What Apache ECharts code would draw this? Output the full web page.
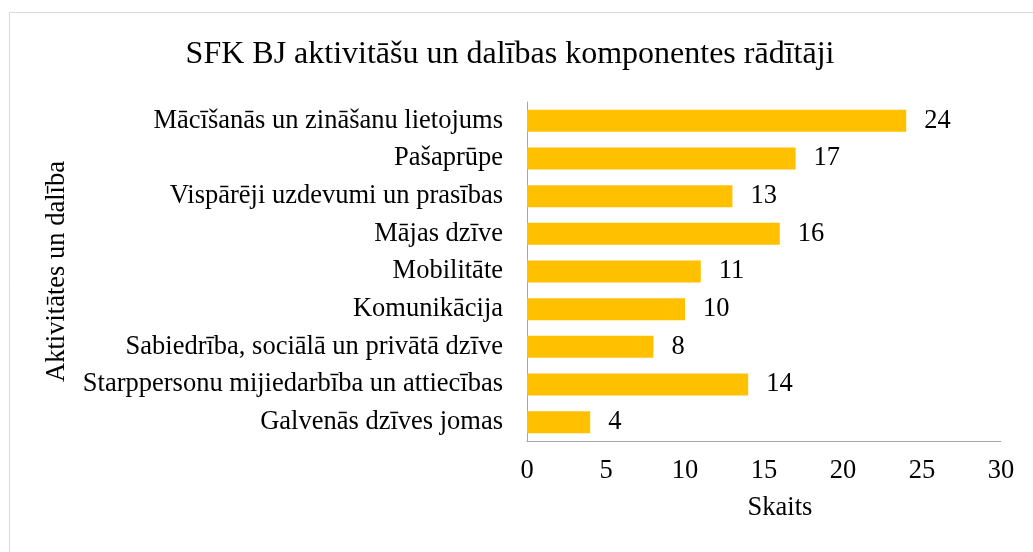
<!DOCTYPE html>
<html>
<head>
<meta charset="utf-8">
<script src="https://cdn.jsdelivr.net/npm/echarts@6/dist/echarts.min.js"></script>
<style>
  html, body { margin: 0; padding: 0; background: #fff; }
  #chart { width: 1033px; height: 552px; }
</style>
</head>
<body>
<div id="chart"></div>
<script>
// Activity and participation components (ICF), counts per component
const categories = [
  'Mācīšanās un zināšanu lietojums',
  'Pašaprūpe',
  'Vispārēji uzdevumi un prasības',
  'Mājas dzīve',
  'Mobilitāte',
  'Komunikācija',
  'Sabiedrība, sociālā un privātā dzīve',
  'Starppersonu mijiedarbība un attiecības',
  'Galvenās dzīves jomas'
];
const counts = [24, 17, 13, 16, 11, 10, 8, 14, 4];
const xTicks = [0, 5, 10, 15, 20, 25, 30];

const serif = '"Liberation Serif", "Times New Roman", serif';
const chart = echarts.init(document.getElementById('chart'), null, { renderer: 'canvas' });

chart.setOption({
  backgroundColor: '#fff',
  animation: false,
  textStyle: { fontFamily: serif },
  graphic: [{
    type: 'rect',
    shape: { x: 9.5, y: 12.5, width: 1100, height: 600 },
    style: { fill: 'none', stroke: '#d9d9d9', lineWidth: 1 },
    silent: true
  }],
  title: {
    text: 'SFK BJ aktivitāšu un dalības komponentes rādītāji',
    left: 505,
    textAlign: 'center',
    top: 34,
    textStyle: { fontFamily: serif, fontSize: 32, fontWeight: 'normal', color: '#000' }
  },
  grid: { left: 527, right: 32, top: 102, bottom: 111, containLabel: false },
  xAxis: {
    type: 'value',
    min: xTicks[0],
    max: xTicks[xTicks.length - 1],
    interval: xTicks[1] - xTicks[0],
    name: 'Skaits',
    nameLocation: 'middle',
    nameGap: 54,
    nameTextStyle: { fontFamily: serif, fontSize: 26.5, color: '#000', padding: [0, 0, 0, 32] },
    axisLine: { show: true, lineStyle: { color: '#a6a6a6', width: 1 } },
    axisTick: { show: false },
    splitLine: { show: false },
    axisLabel: { fontFamily: serif, fontSize: 26.5, color: '#000', margin: 17 }
  },
  yAxis: {
    type: 'category',
    data: categories,
    inverse: true,
    name: 'Aktivitātes un dalība',
    nameLocation: 'middle',
    nameRotate: 90,
    nameGap: 456,
    nameTextStyle: { fontFamily: serif, fontSize: 26.5, color: '#000' },
    axisLine: { show: true, lineStyle: { color: '#a6a6a6', width: 1 } },
    axisTick: { show: false },
    axisLabel: { fontFamily: serif, fontSize: 26.5, color: '#000', margin: 24 }
  },
  series: [{
    type: 'bar',
    data: counts,
    barWidth: 22,
    itemStyle: { color: '#FFC000' },
    label: {
      show: true,
      position: 'right',
      distance: 18,
      fontFamily: serif,
      fontSize: 26.5,
      color: '#000'
    }
  }]
});
</script>
</body>
</html>
